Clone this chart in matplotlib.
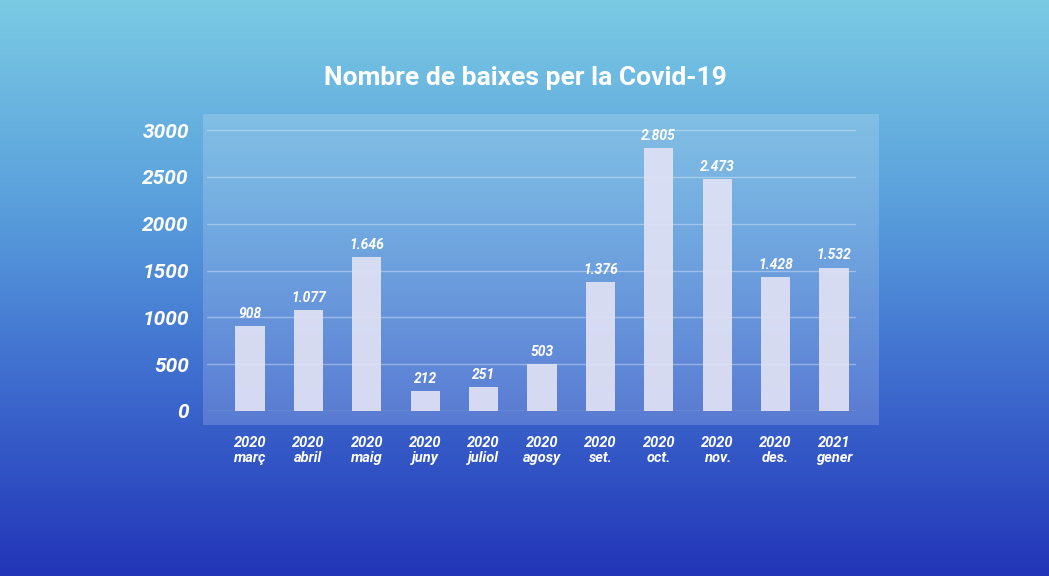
import matplotlib
matplotlib.use("Agg")
import matplotlib.pyplot as plt
import numpy as np
from matplotlib.colors import LinearSegmentedColormap
from matplotlib.patches import Rectangle

# data
years = ["2020", "2020", "2020", "2020", "2020", "2020", "2020", "2020", "2020", "2020", "2021"]
months = ["març", "abril", "maig", "juny", "juliol", "agosy", "set.", "oct.", "nov.", "des.", "gener"]
baixes = [908, 1077, 1646, 212, 251, 503, 1376, 2805, 2473, 1428, 1532]
value_labels = ["908", "1.077", "1.646", "212", "251", "503", "1.376", "2.805", "2.473", "1.428", "1.532"]
y_ticks = [0, 500, 1000, 1500, 2000, 2500, 3000]

W, H = 1049, 576
plt.rcParams['font.family'] = ['Roboto', 'DejaVu Sans']

fig = plt.figure(figsize=(W / 100, H / 100), dpi=100)

# background gradient
bg = fig.add_axes([0, 0, 1, 1])
cmap = LinearSegmentedColormap.from_list("bg", [
    (0.0, "#7acae4"),
    (0.35, "#5aa0dc"),
    (0.65, "#3f6ecf"),
    (1.0, "#2234b8"),
])
grad = np.linspace(0, 1, 256).reshape(-1, 1)
bg.imshow(grad, aspect="auto", cmap=cmap, extent=[0, 1, 0, 1], origin="upper")
bg.set_xlim(0, 1)
bg.set_ylim(0, 1)
bg.axis("off")

# lighter panel behind the chart
bg.add_patch(Rectangle((203 / W, 1 - 425 / H), (879 - 203) / W, (425 - 114) / H,
                       facecolor="white", alpha=0.17, edgecolor="none"))

# main axes
left, right = 207 / W, 856 / W
bottom, top = 1 - 411 / H, 1 - 130 / H
ax = fig.add_axes([left, bottom, right - left, top - bottom])
ax.patch.set_alpha(0)

x = np.arange(len(baixes))
bars = ax.bar(x, baixes, width=0.5, color="#dfe1f4", alpha=0.93, zorder=3)

for xi, v, lab in zip(x, baixes, value_labels):
    ax.text(xi, v + 55, lab, ha="center", va="bottom", color="white",
            fontsize=10, fontweight="bold", style="italic", zorder=4)

ax.set_xlim(-0.736, 10.377)
ax.set_ylim(0, 3000)
ax.set_yticks(y_ticks)
ax.set_yticklabels([str(t) for t in y_ticks], fontsize=15, fontweight="bold",
                   style="italic", color="white")
ax.set_xticks(x)
ax.set_xticklabels([y + "\n" + m for y, m in zip(years, months)], fontsize=10.5,
                   fontweight="bold", style="italic", color="white", linespacing=1.05)
ax.tick_params(axis="y", length=0, pad=13)
ax.tick_params(axis="x", length=0, pad=18)
ax.grid(axis="y", color="white", alpha=0.35, linewidth=1, zorder=1)
for s in ax.spines.values():
    s.set_visible(False)

fig.text(525 / W, 1 - 78 / H, "Nombre de baixes per la Covid-19", ha="center",
         va="center", color="white", fontsize=19, fontweight="bold")

fig.savefig("out.png", dpi=100)
